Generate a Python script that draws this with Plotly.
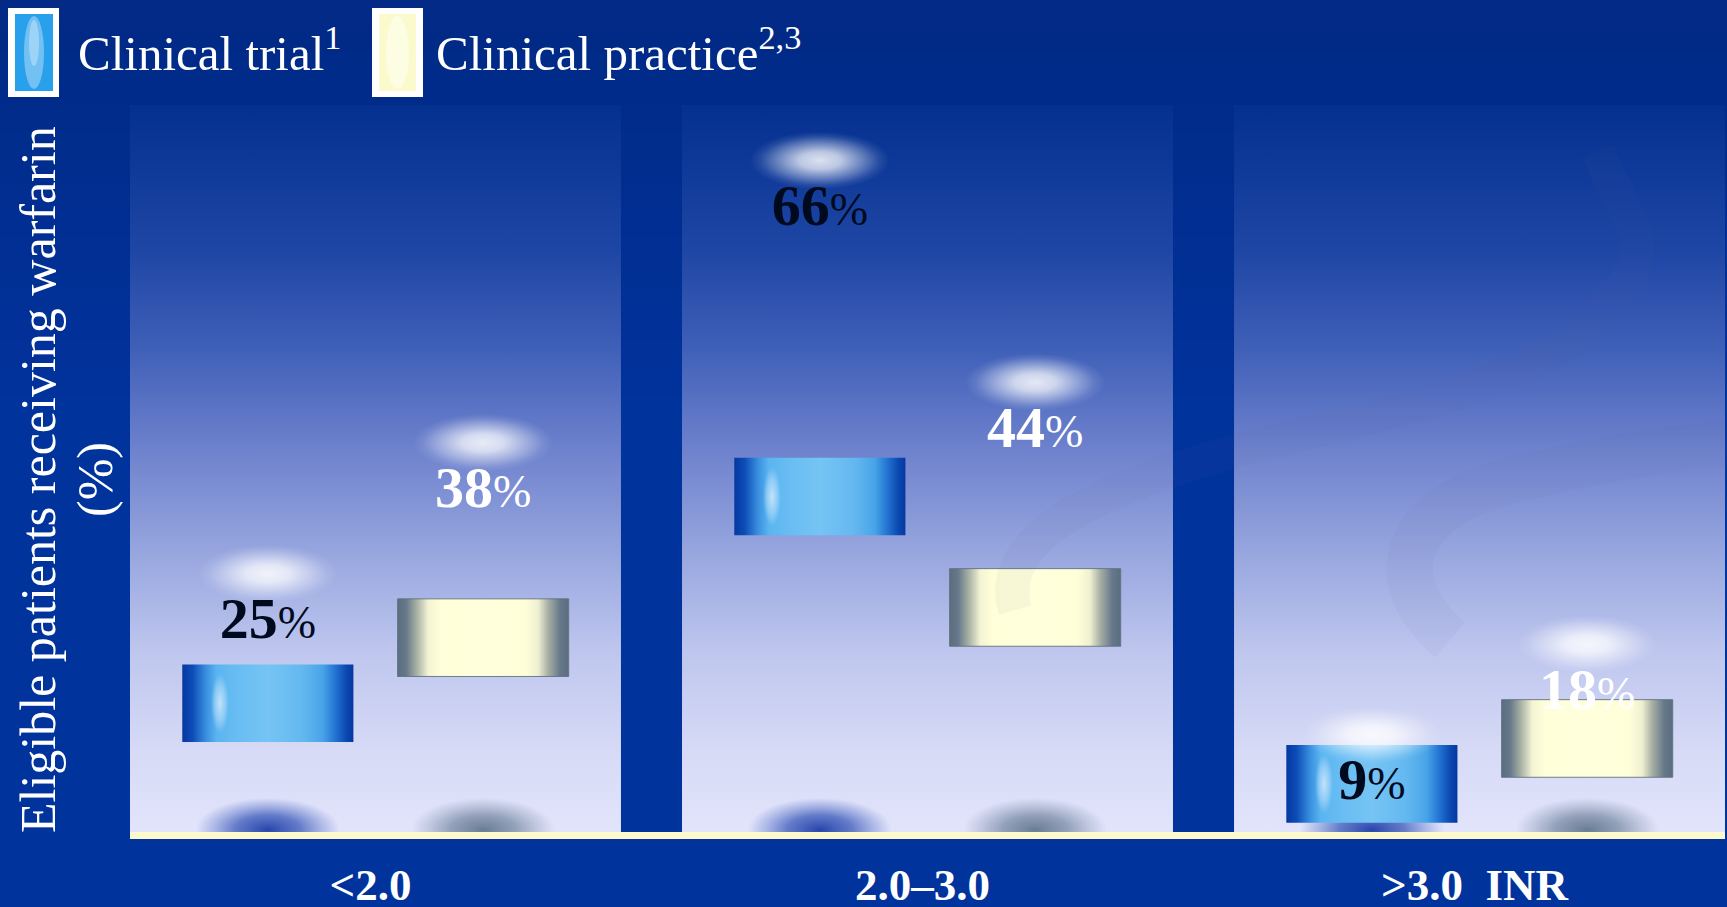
import numpy as np
import plotly.graph_objects as go

# ---------------- data ----------------
categories = ["<2.0", "2.0–3.0", ">3.0  INR"]
clinical_trial = [25, 66, 9]
clinical_practice = [38, 44, 18]
series_labels = ["Clinical trial<sup>1</sup>", "Clinical practice<sup>2,3</sup>"]

# ---------------- geometry / style ----------------
W, H = 1727, 907
FONT = "Liberation Serif"
PLOT_L, PLOT_R, PLOT_T, PLOT_B = 130, 1725, 105, 832
X_RANGE = [-0.4447, 2.4447]
Y_RANGE = [-0.63, 71.5]
PANEL_HALF = 0.4447          # half width of each category panel (x units)
BAR_OFFSET = 0.195           # distance of each series from the category centre
BAR_HALF = 0.155             # half width of a bar band
BAND = 7.7                   # thickness of the bar band (y units)

px_x = (PLOT_R - PLOT_L) / (X_RANGE[1] - X_RANGE[0])
px_y = (PLOT_B - PLOT_T) / (Y_RANGE[1] - Y_RANGE[0])


def paper(xpx, ypx):
    return xpx / W, 1 - ypx / H


def ellipse(cx, cy, rx, ry, n=72):
    t = np.linspace(0, 2 * np.pi, n)
    return cx + rx * np.cos(t), cy + ry * np.sin(t)


fig = go.Figure()

# ---- category panels with vertical gradient ----
panel_scale = [
    [0.0, "#e2e4fb"], [0.113, "#d6daf6"], [0.25, "#bec6ee"], [0.388, "#96a5de"],
    [0.525, "#6e82cd"], [0.663, "#4060b8"], [0.8, "#1e46a5"], [1.0, "#04308f"],
]
for g in range(len(categories)):
    x0, x1 = g - PANEL_HALF, g + PANEL_HALF
    fig.add_trace(go.Scatter(
        x=[x0, x1, x1, x0, x0], y=[Y_RANGE[0], Y_RANGE[0], Y_RANGE[1], Y_RANGE[1], Y_RANGE[0]],
        mode="lines", line=dict(width=0, color="rgba(0,0,0,0)"), fill="toself",
        fillgradient=dict(type="vertical", colorscale=panel_scale,
                          start=Y_RANGE[0], stop=Y_RANGE[1]),
        hoverinfo="skip", showlegend=False,
    ))

series = [
    dict(values=clinical_trial, offset=-BAR_OFFSET, text_color="#000a1e",
         shadow=[[0, "rgba(30,62,168,0.95)"], [0.45, "rgba(45,78,178,0.7)"], [1, "rgba(70,100,195,0)"]],
         band=[[0, "#0538a0"], [0.06, "#0d4cb8"], [0.14, "#3a90e0"], [0.2, "#5ab4f0"],
               [0.3, "#66bcf2"], [0.5, "#76c4f4"], [0.7, "#64b8f0"], [0.82, "#48a4e8"],
               [0.9, "#2070d0"], [0.96, "#0a48b0"], [1, "#0538a0"]],
         outline="rgba(0,0,0,0)", glint=True),
    dict(values=clinical_practice, offset=BAR_OFFSET, text_color="#ffffff",
         shadow=[[0, "rgba(95,115,140,0.92)"], [0.45, "rgba(105,124,150,0.65)"], [1, "rgba(125,140,170,0)"]],
         band=[[0, "#5a6e80"], [0.05, "#66788a"], [0.12, "#b0b8a8"], [0.18, "#f4f4d4"],
               [0.25, "#fefed8"], [0.5, "#ffffdc"], [0.75, "#fefed8"], [0.82, "#f0f0d2"],
               [0.88, "#a8b0a4"], [0.95, "#66788a"], [1, "#5a6e80"]],
         outline="rgba(96,114,130,0.9)", glint=False),
]

glow_scale = [[0, "rgba(255,255,255,0.85)"], [0.3, "rgba(255,255,255,0.72)"],
              [0.6, "rgba(255,255,255,0.38)"], [0.85, "rgba(255,255,255,0.1)"],
              [1, "rgba(255,255,255,0)"]]
glint_scale = [[0, "rgba(205,232,252,0.9)"], [0.6, "rgba(190,225,250,0.5)"], [1, "rgba(180,220,250,0)"]]

# ---- base shadows (domes sitting on the baseline) ----
for s in series:
    for g, v in enumerate(s["values"]):
        ex, ey = ellipse(g + s["offset"], -0.4, 72 / px_x, 32 / px_y)
        fig.add_trace(go.Scatter(
            x=ex, y=ey, mode="lines", line=dict(width=0, color="rgba(0,0,0,0)"),
            fill="toself", fillgradient=dict(type="radial", colorscale=s["shadow"]),
            hoverinfo="skip", showlegend=False))

# ---- bar bands ----
for s in series:
    for g, v in enumerate(s["values"]):
        c = g + s["offset"]
        top = v / 2 + 3.5
        bot = top - BAND
        fig.add_trace(go.Scatter(
            x=[c - BAR_HALF, c + BAR_HALF, c + BAR_HALF, c - BAR_HALF, c - BAR_HALF],
            y=[bot, bot, top, top, bot],
            mode="lines", line=dict(width=1, color=s["outline"]), fill="toself",
            fillgradient=dict(type="horizontal", colorscale=s["band"],
                              start=c - BAR_HALF, stop=c + BAR_HALF),
            hoverinfo="skip", showlegend=False))
        if s["glint"]:
            gx, gy = ellipse(c - BAR_HALF + 0.22 * 2 * BAR_HALF, (top + bot) / 2, 9 / px_x, 30 / px_y)
            fig.add_trace(go.Scatter(
                x=gx, y=gy, mode="lines", line=dict(width=0, color="rgba(0,0,0,0)"),
                fill="toself", fillgradient=dict(type="radial", colorscale=glint_scale),
                hoverinfo="skip", showlegend=False))

# ---- glow at the value level ----
for s in series:
    for g, v in enumerate(s["values"]):
        ex, ey = ellipse(g + s["offset"], v, 70 / px_x, 29 / px_y)
        fig.add_trace(go.Scatter(
            x=ex, y=ey, mode="lines", line=dict(width=0, color="rgba(0,0,0,0)"),
            fill="toself", fillgradient=dict(type="radial", colorscale=glow_scale),
            hoverinfo="skip", showlegend=False))

# ---- value labels ----
for s, name in zip(series, series_labels):
    xs = [g + s["offset"] for g in range(len(categories))]
    ys = [v - 4.95 for v in s["values"]]
    fig.add_trace(go.Scatter(
        x=xs, y=ys, mode="text",
        text=[f"<b>{v}</b><span style='font-size:46px'>%</span>" for v in s["values"]],
        textposition="middle center",
        textfont=dict(family=FONT, size=58, color=s["text_color"]),
        cliponaxis=False, hoverinfo="skip", showlegend=False, name=name))

# ---- background: darker band at the top of the slide ----
shapes = []
top_c = np.array([2, 42, 134])
bot_c = np.array([1, 51, 157])
n_strips = 16
for i in range(n_strips):
    y0 = i * 420 / n_strips
    y1 = (i + 1) * 420 / n_strips + 1
    c = top_c + (bot_c - top_c) * i / (n_strips - 1)
    _, py0 = paper(0, y0)
    _, py1 = paper(0, y1)
    shapes.append(dict(type="rect", xref="paper", yref="paper", x0=0, x1=1, y0=py1, y1=py0,
                       fillcolor=f"rgb({int(c[0])},{int(c[1])},{int(c[2])})",
                       line=dict(width=0), layer="below"))


# faint decorative swooshes over the right-hand panels
def ppath(points):
    out = []
    for cmd, pts in points:
        coords = " ".join(f"{x / W:.5f},{1 - y / H:.5f}" for x, y in pts)
        out.append(f"{cmd} {coords}")
    return " ".join(out)


swoosh1 = ppath([("M", [(1015, 610)]), ("C", [(990, 520), (1150, 470), (1320, 430)]),
                 ("S", [(1560, 360), (1612, 300)]), ("S", [(1625, 225), (1598, 150)])])
swoosh2 = ppath([("M", [(1450, 640)]), ("C", [(1380, 580), (1400, 505), (1520, 478)]),
                 ("S", [(1680, 448), (1727, 444)])])
for pth, wdt in ((swoosh1, 34), (swoosh2, 46)):
    shapes.append(dict(type="path", xref="paper", yref="paper", path=pth,
                       line=dict(color="rgba(95,105,150,0.05)", width=wdt), layer="above"))


# ---- legend (drawn keys) ----
def rect_px(x0, y0, x1, y1, **kw):
    a, b = paper(x0, y0)
    c, d = paper(x1, y1)
    return dict(type="rect", xref="paper", yref="paper", x0=a, x1=c, y0=d, y1=b, **kw)


def oval_px(x0, y0, x1, y1, **kw):
    a, b = paper(x0, y0)
    c, d = paper(x1, y1)
    return dict(type="circle", xref="paper", yref="paper", x0=a, x1=c, y0=d, y1=b, **kw)


shapes += [
    rect_px(8, 8, 59, 97, fillcolor="#ffffff", line=dict(width=0), layer="above"),
    rect_px(15, 14, 53, 91, fillcolor="#28a0ec", line=dict(width=0), layer="above"),
    oval_px(24, 16, 44, 89, fillcolor="#cfe8fa", opacity=0.45, line=dict(width=0), layer="above"),
    oval_px(29, 20, 39, 66, fillcolor="#ffffff", opacity=0.3, line=dict(width=0), layer="above"),
    rect_px(372, 8, 423, 97, fillcolor="#ffffff", line=dict(width=0), layer="above"),
    rect_px(379, 14, 416, 91, fillcolor="#fafacc", line=dict(width=0), layer="above"),
    oval_px(386, 16, 409, 89, fillcolor="#fffff2", opacity=0.6, line=dict(width=0), layer="above"),
]

annotations = []
for label, xpx in zip(series_labels, (76, 434)):
    ax_, ay_ = paper(xpx, 50)
    annotations.append(dict(text=label, x=ax_, y=ay_, xref="paper", yref="paper",
                            xanchor="left", yanchor="middle", showarrow=False,
                            font=dict(family=FONT, size=49, color="#ffffff")))

# y-axis title (two lines)
for txt, xpx in (("Eligible patients receiving warfarin", 38), ("(%)", 95)):
    ax_, ay_ = paper(xpx, 480)
    annotations.append(dict(text=txt, x=ax_, y=ay_, xref="paper", yref="paper",
                            xanchor="center", yanchor="middle", textangle=-90, showarrow=False,
                            font=dict(family=FONT, size=50, color="#ffffff")))

fig.update_layout(
    template="none",
    width=W, height=H,
    margin=dict(l=0, r=0, t=0, b=0),
    paper_bgcolor="#01339d",
    plot_bgcolor="rgba(0,0,0,0)",
    showlegend=False,
    shapes=shapes,
    annotations=annotations,
    xaxis=dict(
        domain=[PLOT_L / W, PLOT_R / W], range=X_RANGE, automargin=False,
        tickvals=list(range(len(categories))), ticktext=categories,
        tickfont=dict(family=FONT, size=45, color="#ffffff", weight="bold"),
        ticks="", ticklabelstandoff=7, ticklabelshift=-5,
        showgrid=False, zeroline=False, showline=True, linecolor="#fdf9cf", linewidth=7,
        fixedrange=True,
    ),
    yaxis=dict(
        domain=[1 - PLOT_B / H, 1 - PLOT_T / H], range=Y_RANGE, automargin=False,
        showticklabels=False, ticks="", showgrid=False, zeroline=False, showline=False,
        fixedrange=True,
    ),
)

fig.write_html("out.html", config={"displayModeBar": False})
